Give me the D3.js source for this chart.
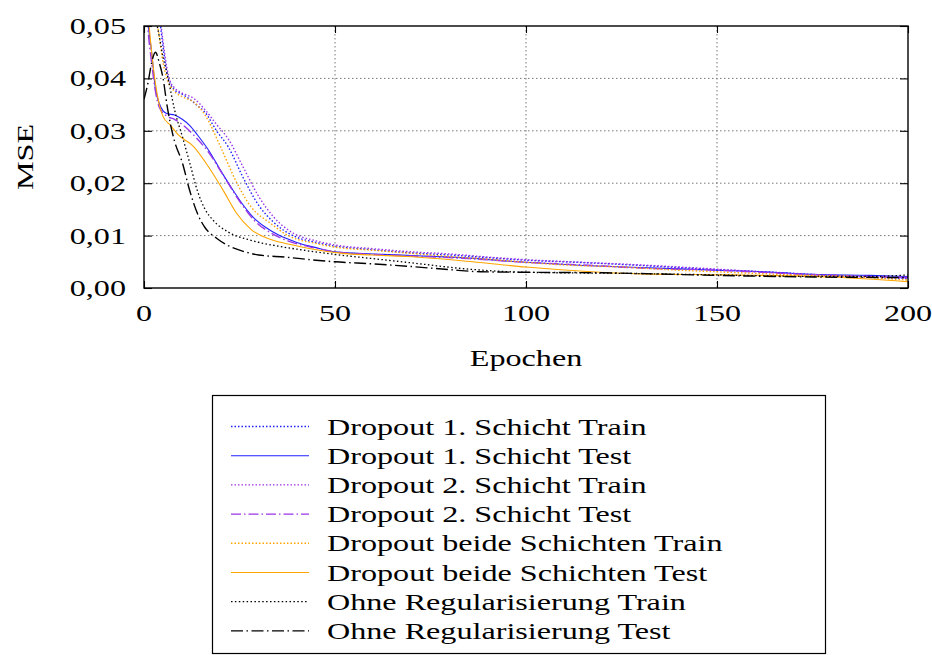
<!DOCTYPE html>
<html lang="de">
<head>
<meta charset="utf-8">
<title>MSE Epochen</title>
<script src="https://d3js.org/d3.v7.min.js"></script>
<style>
  body { margin: 0; background: #fff; }
</style>
</head>
<body>
<div id="chart"></div>
<script>
// data: [epoch, mse]
const d1Train = [[0,0.075],[3,0.058],[4,0.052],[5,0.046],[6,0.041],[7,0.0388],[8,0.0378],[10,0.037],[12,0.036],[14,0.0348],[16,0.0335],[19,0.030],[22,0.027],[26,0.021],[30,0.0158],[34,0.0125],[39,0.0100],[45,0.0087],[50,0.008],[60,0.0073],[70,0.0067],[80,0.0063],[90,0.0058],[100,0.0053],[110,0.005],[125,0.0045],[140,0.0039],[150,0.0035],[165,0.003],[180,0.0024],[200,0.0018]];
const d1Test = [[0,0.062],[1,0.051],[2,0.045],[3,0.038],[4,0.0352],[5,0.0338],[6,0.0333],[8,0.033],[10,0.0322],[12,0.031],[14,0.0292],[17,0.0262],[20,0.0225],[23,0.019],[26,0.0158],[29,0.0132],[32,0.0115],[35,0.0102],[40,0.0087],[45,0.0077],[50,0.0069],[60,0.0065],[70,0.0062],[85,0.0057],[100,0.0049],[115,0.0043],[130,0.0039],[150,0.0034],[165,0.003],[175,0.0026],[190,0.0024],[200,0.0022]];
const d2Train = [[0,0.078],[3,0.06],[4,0.053],[5,0.047],[6,0.042],[7,0.0392],[8,0.0382],[10,0.0372],[13,0.0362],[16,0.034],[19,0.0312],[22,0.0285],[26,0.023],[30,0.0175],[34,0.0135],[39,0.0105],[45,0.009],[50,0.0082],[60,0.0075],[70,0.0069],[80,0.0065],[90,0.0059],[100,0.0054],[115,0.0049],[130,0.0044],[150,0.0036],[170,0.0027],[185,0.0022],[200,0.0019]];
const d2Test = [[0,0.065],[1,0.05],[2,0.043],[3,0.0375],[4,0.0345],[6,0.0328],[8,0.0322],[10,0.0312],[13,0.0292],[17,0.0258],[21,0.0212],[25,0.0166],[29,0.0128],[33,0.0106],[38,0.0089],[45,0.0076],[50,0.0069],[60,0.0064],[70,0.0061],[85,0.0056],[100,0.0049],[115,0.0044],[130,0.0038],[150,0.0034],[170,0.0027],[185,0.0023],[200,0.002]];
const bothTrain = [[0,0.07],[2,0.058],[3,0.053],[4,0.048],[5,0.043],[6,0.040],[8,0.0375],[10,0.0365],[13,0.0355],[16,0.033],[20,0.027],[24,0.0205],[28,0.0155],[33,0.0124],[38,0.0099],[45,0.0085],[50,0.0078],[60,0.0072],[70,0.0066],[80,0.006],[90,0.0055],[100,0.0049],[110,0.0044],[125,0.004],[140,0.0034],[150,0.0031],[170,0.0025],[185,0.0022],[200,0.0015]];
const bothTest = [[0,0.062],[1,0.053],[2,0.045],[3,0.039],[4,0.035],[5,0.0327],[7,0.031],[9,0.0292],[13,0.027],[17,0.023],[21,0.0183],[24,0.0145],[28,0.0112],[33,0.0093],[39,0.0082],[45,0.0073],[52,0.0066],[60,0.0063],[69,0.006],[86,0.005],[100,0.004],[115,0.0032],[130,0.0027],[153,0.0025],[180,0.0021],[200,0.0012]];
const noRegTrain = [[2,0.058],[3,0.052],[4,0.048],[5,0.044],[6,0.041],[7,0.0375],[8,0.034],[10,0.029],[12,0.0238],[14,0.0185],[16,0.015],[18,0.013],[22,0.0107],[28,0.0091],[35,0.008],[41,0.0073],[50,0.0064],[60,0.0056],[70,0.0048],[85,0.0036],[100,0.003],[125,0.0028],[150,0.0025],[175,0.0022],[190,0.0022],[200,0.0025]];
const noRegTest = [[0,0.036],[1,0.039],[2,0.043],[3,0.045],[4,0.043],[5,0.040],[6,0.035],[7,0.031],[8,0.028],[10,0.024],[12,0.0185],[14,0.0142],[16,0.0115],[19,0.0095],[22,0.0081],[26,0.007],[30,0.0063],[37,0.0059],[45,0.0053],[50,0.005],[60,0.0046],[70,0.0041],[80,0.0035],[88,0.0031],[100,0.003],[120,0.0029],[150,0.0024],[175,0.0021],[200,0.002]];

const seriesNames = ["Dropout 1. Schicht Train", "Dropout 1. Schicht Test", "Dropout 2. Schicht Train", "Dropout 2. Schicht Test",
  "Dropout beide Schichten Train", "Dropout beide Schichten Test", "Ohne Regularisierung Train", "Ohne Regularisierung Test"];
const xTicks = [0, 50, 100, 150, 200];
const yTicks = [0, 0.01, 0.02, 0.03, 0.04, 0.05];

const width = 932, height = 655;
const plotLeft = 144, plotRight = 908, plotTop = 26, plotBottom = 288;
const font = "'Liberation Serif', 'Times New Roman', serif";
const fontSize = 24, sx = 1.34;

const blue = "#2020ff", purple = "#9b35e8", orange = "#ffa500", black = "#000";
const dotted = "1.5,2", dashdot = "10,3,1.5,3", dashdotLong = "12,3.5,1.5,3.5";

const series = [
  { data: d1Train, color: blue, dash: dotted, w: 1.4 },
  { data: d1Test, color: blue, dash: null, w: 1.1 },
  { data: d2Train, color: purple, dash: dotted, w: 1.4 },
  { data: d2Test, color: purple, dash: dashdot, w: 1.4 },
  { data: bothTrain, color: orange, dash: dotted, w: 1.4 },
  { data: bothTest, color: orange, dash: null, w: 1.1 },
  { data: noRegTrain, color: black, dash: "1.5,2.4", w: 1.3 },
  { data: noRegTest, color: black, dash: dashdotLong, w: 1.4 }
];

const svg = d3.select("#chart").append("svg")
  .attr("width", width).attr("height", height)
  .style("background", "#fff");

const x = d3.scaleLinear().domain([0, 200]).range([plotLeft, plotRight]);
const y = d3.scaleLinear().domain([0, 0.05]).range([plotBottom, plotTop]);

function label(g, px, py, str, anchor) {
  return g.append("text")
    .attr("transform", `translate(${px},${py}) scale(${sx},1)`)
    .attr("text-anchor", anchor)
    .attr("dominant-baseline", "central")
    .style("font-family", font)
    .style("font-size", fontSize + "px")
    .text(str);
}

// grid
const grid = svg.append("g");
grid.selectAll(".gx").data(xTicks.slice(1, -1)).enter().append("line")
  .attr("x1", d => x(d)).attr("x2", d => x(d)).attr("y1", plotTop).attr("y2", plotBottom)
  .attr("stroke", "#777").attr("stroke-width", 1).attr("stroke-dasharray", "1.5,2.5");
grid.selectAll(".gy").data(yTicks.slice(1, -1)).enter().append("line")
  .attr("y1", d => y(d)).attr("y2", d => y(d)).attr("x1", plotLeft).attr("x2", plotRight)
  .attr("stroke", "#777").attr("stroke-width", 1).attr("stroke-dasharray", "1.5,2.5");

// lines
svg.append("clipPath").attr("id", "clip").append("rect")
  .attr("x", plotLeft).attr("y", plotTop).attr("width", plotRight - plotLeft).attr("height", plotBottom - plotTop);

const line = d3.line().x(d => x(d[0])).y(d => y(d[1])).curve(d3.curveMonotoneX);
const plot = svg.append("g").attr("clip-path", "url(#clip)");
series.forEach(s => {
  plot.append("path")
    .attr("d", line(s.data))
    .attr("fill", "none")
    .attr("stroke", s.color)
    .attr("stroke-width", s.w)
    .attr("stroke-dasharray", s.dash);
});

// axes with inward ticks on all sides
const xAxisB = d3.axisBottom(x).tickValues(xTicks).tickSize(-7).tickFormat("");
const xAxisT = d3.axisTop(x).tickValues(xTicks).tickSize(-7).tickFormat("");
const yAxisL = d3.axisLeft(y).tickValues(yTicks).tickSize(-8).tickFormat("");
const yAxisR = d3.axisRight(y).tickValues(yTicks).tickSize(-8).tickFormat("");
[[xAxisB, `translate(0,${plotBottom})`], [xAxisT, `translate(0,${plotTop})`],
 [yAxisL, `translate(${plotLeft},0)`], [yAxisR, `translate(${plotRight},0)`]].forEach(([ax, tr]) => {
  const g = svg.append("g").attr("transform", tr).call(ax);
  g.select(".domain").remove();
  g.selectAll("line").attr("stroke", "#000").attr("stroke-width", 1.1);
});
svg.append("rect").attr("x", plotLeft).attr("y", plotTop).attr("width", plotRight - plotLeft).attr("height", plotBottom - plotTop)
  .attr("fill", "none").attr("stroke", "#000").attr("stroke-width", 1.4);

// tick labels
const fmtY = d3.format(".2f");
yTicks.forEach(t => label(svg, 126, y(t), fmtY(t).replace(".", ","), "end"));
xTicks.forEach(t => label(svg, x(t), 313, String(t), "middle"));

label(svg, 526, 358, "Epochen", "middle");
svg.append("text")
  .attr("transform", `translate(25,157) rotate(-90) scale(${sx},1)`)
  .attr("text-anchor", "middle")
  .attr("dominant-baseline", "central")
  .style("font-family", font)
  .style("font-size", fontSize + "px")
  .text("MSE");

// legend
const legend = svg.append("g");
legend.append("rect").attr("x", 212.5).attr("y", 395.5).attr("width", 613).attr("height", 258)
  .attr("fill", "#fff").attr("stroke", "#000").attr("stroke-width", 1.2);
series.forEach((s, i) => {
  const ry = 426.5 + i * 29.2;
  legend.append("line")
    .attr("x1", 231).attr("x2", 309).attr("y1", ry).attr("y2", ry)
    .attr("stroke", s.color).attr("stroke-width", s.w)
    .attr("stroke-dasharray", s.dash);
  label(legend, 327, ry, seriesNames[i], "start");
});
</script>
</body>
</html>
